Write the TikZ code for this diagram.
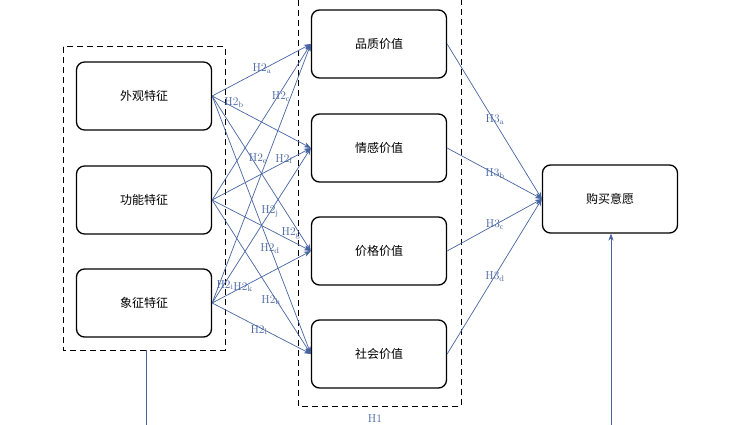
\documentclass[tikz,border=0pt]{standalone}
\usepackage{fontspec}
\newfontfamily\cjk{Noto Sans CJK SC}
\usetikzlibrary{arrows.meta,positioning}
\definecolor{lnblue}{RGB}{70,100,160}
\tikzset{
  box/.style={draw,line width=1.3pt,rounded corners=8pt,minimum width=135pt,minimum height=68pt,font=\cjk\fontsize{12}{14}\selectfont},
  lab/.style={text=lnblue,font=\fontsize{11.5}{13}\selectfont,inner sep=1pt},
  lnk/.style={lnblue,line width=0.7pt,-{Stealth[length=7pt]}},
  grp/.style={line width=1pt,dash pattern=on 6pt off 4pt}
}
\begin{document}
\begin{tikzpicture}[x=1pt,y=-1pt]
    \useasboundingbox (0,0) rectangle (742,425);
    % dashed groups
    \draw[grp] (63,47) rectangle (225,350);
    \draw[grp] (298,0) rectangle (461,406);

    \node[box] (wg) at (144,96)  {外观特征};
    \node[box] (gn) at (144,200) {功能特征};
    \node[box] (xz) at (144,303) {象征特征};

    \node[box] (pz) at (379,44)  {品质价值};
    \node[box] (qg) at (379,148) {情感价值};
    \node[box] (jg) at (379,251) {价格价值};
    \node[box] (sh) at (379,354) {社会价值};

    \node[box] (gm) at (610,199) {购买意愿};

    \foreach \a in {wg,gn,xz}
      \foreach \b in {pz,qg,jg,sh}
        \draw[lnk] (\a.east) -- (\b.west);
    \foreach \b in {pz,qg,jg,sh}
      \draw[lnk] (\b.east) -- (gm.west);

    \node[lab] at (262,69)  {H2$_\mathrm{a}$};
    \node[lab] at (234,103) {H2$_\mathrm{b}$};
    \node[lab] at (281,97)  {H2$_\mathrm{c}$};
    \node[lab] at (258,159) {H2$_\mathrm{e}$};
    \node[lab] at (284,159) {H2$_\mathrm{f}$};
    \node[lab] at (270,211) {H2$_\mathrm{j}$};
    \node[lab] at (291,233) {H2$_\mathrm{g}$};
    \node[lab] at (270,249) {H2$_\mathrm{d}$};
    \node[lab] at (225,285) {H2$_\mathrm{i}$};
    \node[lab] at (243,287) {H2$_\mathrm{k}$};
    \node[lab] at (271,300) {H2$_\mathrm{h}$};
    \node[lab] at (259,330) {H2$_\mathrm{l}$};

    \node[lab] at (495,120) {H3$_\mathrm{a}$};
    \node[lab] at (495,174) {H3$_\mathrm{b}$};
    \node[lab] at (495,225) {H3$_\mathrm{c}$};
    \node[lab] at (495,277) {H3$_\mathrm{d}$};

    \node[lab] (h1) at (375,419) {H1};
    \coordinate (lb) at (146,425);
    \coordinate (rb) at (611,425);
    \draw[lnblue,line width=0.7pt] (146,350) -- (lb);
    \draw[lnk] (rb) -- (gm.south -| rb);
\end{tikzpicture}
\end{document}
